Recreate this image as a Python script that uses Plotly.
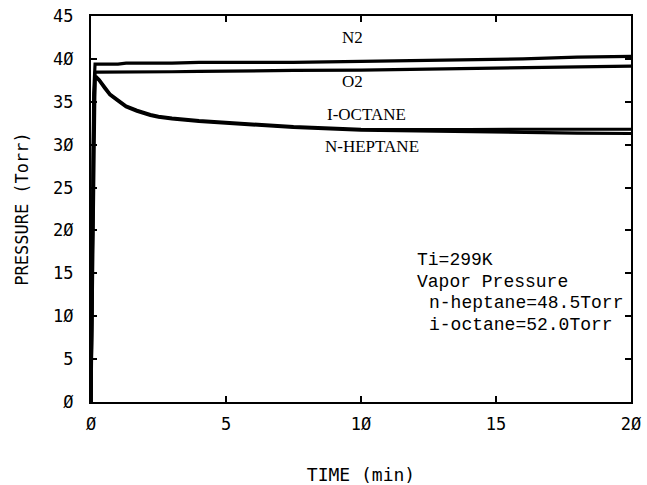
import plotly.graph_objects as go

time = [0, 0.05, 0.1, 0.15, 0.2, 0.3, 0.5, 0.7, 1, 1.3, 1.7, 2.2, 2.5, 3, 4, 5, 6.3, 7.5, 10, 12, 14, 16, 18, 20]
n2 = [0, 20, 36, 39.4, 39.4, 39.4, 39.4, 39.4, 39.4, 39.5, 39.5, 39.5, 39.5, 39.5, 39.6, 39.6, 39.6, 39.6, 39.7, 39.8, 39.9, 40.0, 40.2, 40.3]
o2 = [0, 18, 34, 38.4, 38.45, 38.45, 38.45, 38.45, 38.45, 38.5, 38.5, 38.5, 38.5, 38.5, 38.55, 38.6, 38.6, 38.65, 38.7, 38.8, 38.9, 39.0, 39.1, 39.15]
octane = [0, 15, 33, 37.9, 37.9, 37.6, 36.7, 35.9, 35.2, 34.5, 34.0, 33.5, 33.3, 33.1, 32.8, 32.6, 32.4, 32.1, 31.8, 31.75, 31.75, 31.8, 31.8, 31.8]
heptane = [0, 14, 32, 37.8, 37.8, 37.5, 36.6, 35.8, 35.1, 34.4, 33.9, 33.4, 33.2, 33.0, 32.7, 32.5, 32.3, 32.0, 31.7, 31.6, 31.5, 31.4, 31.35, 31.3]

xticks = [0, 5, 10, 15, 20]
yticks = [0, 5, 10, 15, 20, 25, 30, 35, 40, 45]

fig = go.Figure()
for name, ys in [("N2", n2), ("O2", o2), ("I-OCTANE", octane), ("N-HEPTANE", heptane)]:
    fig.add_trace(go.Scatter(x=time, y=ys, mode="lines", name=name,
                             line=dict(color="black", width=3.2)))

labels = [("N2", 9.7, 42.5), ("O2", 9.7, 37.4), ("I-OCTANE", 10.2, 33.5), ("N-HEPTANE", 10.4, 29.8)]
for txt, x, y in labels:
    fig.add_annotation(x=x, y=y, text=txt, showarrow=False,
                       font=dict(family="Liberation Serif", size=17, color="black"))

box = [("Ti=299K", 12.0, 16.6), ("Vapor Pressure", 12.0, 14.0),
       ("n-heptane=48.5Torr", 12.45, 11.55), ("i-octane=52.0Torr", 12.45, 9.0)]
for txt, x, y in box:
    fig.add_annotation(x=x, y=y, text=txt, showarrow=False, xanchor="left",
                       font=dict(family="Liberation Mono", size=18, color="black"))

axis_common = dict(showline=True, linecolor="black", linewidth=2, mirror="ticks",
                   ticks="inside", ticklen=6, tickwidth=1.5, tickcolor="black",
                   showgrid=False, zeroline=False, automargin=False,
                   tickfont=dict(family="DejaVu Sans Mono", size=17, color="black"))

fig.update_layout(
    width=647, height=485,
    margin=dict(l=91, r=16, t=16, b=83),
    plot_bgcolor="white", paper_bgcolor="white",
    showlegend=False,
    xaxis=dict(range=[0, 20], tickvals=xticks, ticktext=[str(v).replace("0", "Ø") for v in xticks],
               title=dict(text="TIME (min)", font=dict(family="DejaVu Sans Mono", size=18, color="black"), standoff=40),
               ticklabelstandoff=6, **axis_common),
    yaxis=dict(range=[0, 45], tickvals=yticks, ticktext=[str(v).replace("0", "Ø") for v in yticks],
               title=dict(text="PRESSURE (Torr)", font=dict(family="DejaVu Sans Mono", size=17, color="black"), standoff=20),
               ticklabelstandoff=12, **axis_common),
)

fig.write_html("out.html")
